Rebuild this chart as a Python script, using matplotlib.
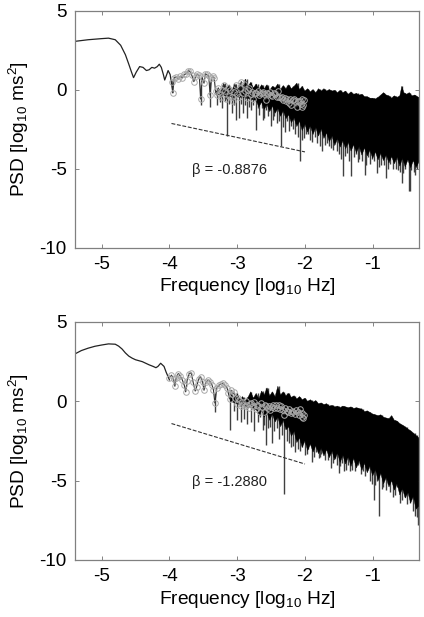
"""Two PSD panels on log-log axes with a fitted slope over the low band."""

import matplotlib
matplotlib.use("Agg")
import matplotlib.pyplot as plt

plt.rcParams["font.family"] = ["Liberation Sans", "DejaVu Sans"]
plt.rcParams["mathtext.default"] = "regular"
plt.rcParams["axes.unicode_minus"] = False

# Top panel
top_line_x = [-5.39, -5.2, -5.0, -4.9, -4.8, -4.72, -4.65, -4.6, -4.56, -4.53, -4.49, -4.44, -4.39, -4.34, -4.3, -4.26,
              -4.22, -4.18, -4.15, -4.12, -4.09, -4.07, -4.04, -4.02, -3.99, -3.97, -3.95]
top_line_y = [3.05, 3.15, 3.22, 3.25, 3.15, 2.8, 2.2, 1.6, 1.1, 0.75, 1.1, 1.45, 1.4, 1.2, 1.25, 1.4,
              1.35, 1.45, 1.6, 1.4, 0.95, 0.6, 0.95, 1.2, 0.95, 0.4, -0.2]
top_circ_x = [-3.96, -3.95, -3.93, -3.9, -3.87, -3.84, -3.81, -3.78, -3.75, -3.72, -3.7, -3.67, -3.64, -3.61, -3.59,
              -3.56, -3.54, -3.52, -3.49, -3.47, -3.45, -3.42, -3.4, -3.38, -3.36, -3.34, -3.32, -3.3, -3.28, -3.26,
              -3.24, -3.22, -3.2, -3.18, -3.16, -3.14, -3.12, -3.1, -3.08, -3.06, -3.04, -3.02, -3.0, -2.98, -2.96,
              -2.94, -2.92, -2.9, -2.88, -2.86, -2.84, -2.82, -2.8, -2.78, -2.76, -2.74, -2.72, -2.7, -2.68, -2.66,
              -2.64, -2.62, -2.6, -2.58, -2.56, -2.54, -2.52, -2.5, -2.48, -2.46, -2.44, -2.42, -2.4, -2.38, -2.36,
              -2.34, -2.32, -2.3, -2.28, -2.26, -2.24, -2.22, -2.2, -2.18, -2.16, -2.14, -2.12, -2.1, -2.08, -2.06,
              -2.05, -2.04, -2.03, -2.02]
top_circ_y = [0.5, -0.2, 0.75, 0.8, 0.65, 0.85, 0.75, 0.95, 1.0, 1.2, 1.15, 0.9, 0.5, 0.85, 0.95,
              0.9, -0.6, 0.8, 0.4, 1.0, 0.95, 0.85, -0.35, 0.7, 0.85, 0.75, -0.1, -0.35, 0.1, -0.3,
              -0.5, 0.0, 0.3, -0.1, -0.6, 0.1, -0.4, 0.0, -0.5, -0.7, -0.15, 0.3, -0.3, -0.45, 0.1,
              0.5, -0.2, 0.35, -0.1, -0.55, 0.0, 0.1, -0.3, -0.15, -0.6, -0.2, -0.25, -0.1, -0.35, -0.2,
              -0.25, -0.15, -0.3, -0.65, -0.2, -0.3, -0.15, -0.35, -0.4, -0.2, -0.3, -0.5, -0.1, -0.45, -0.55,
              -0.5, -0.65, -0.55, -0.7, -0.6, -0.85, -0.6, -0.95, -0.65, -0.6, -0.75, -1.1, -0.7, -0.75, -0.9,
              -0.6, -1.1, -0.95, -0.65]
top_up_x = [-3.32, -3.28, -3.24, -3.2, -3.16, -3.12, -3.08, -3.04, -3.0, -2.96, -2.92, -2.88, -2.84, -2.8, -2.76,
            -2.72, -2.68, -2.64, -2.6, -2.56, -2.52, -2.48, -2.44, -2.4, -2.36, -2.32, -2.28, -2.24, -2.2, -2.16,
            -2.12, -2.08, -2.04, -2.0, -1.96, -1.92, -1.88, -1.84, -1.8, -1.76, -1.72, -1.68, -1.64, -1.6, -1.56,
            -1.52, -1.48, -1.44, -1.4, -1.36, -1.32, -1.28, -1.24, -1.2, -1.16, -1.12, -1.08, -1.04, -1.0, -0.96,
            -0.92, -0.88, -0.84, -0.8, -0.76, -0.72, -0.68, -0.64, -0.6, -0.57, -0.54, -0.5, -0.46, -0.42, -0.38, -0.32]
top_up_y = [-0.2, 0.1, -0.1, 0.4, 0.0, 0.3, -0.1, 0.35, 0.0, 0.4, 0.1, 0.65, 0.2, 0.45, 0.1,
            0.35, 0.0, 0.3, 0.05, 0.3, -0.05, 0.2, 0.1, 0.35, 0.0, 0.25, 0.05, 0.3, 0.05, 0.2,
            0.4, 0.0, 0.2, -0.1, 0.05, -0.15, 0.0, -0.2, 0.05, -0.1, 0.05, -0.1, 0.0, -0.1, -0.05,
            -0.2, -0.05, -0.2, -0.1, -0.3, -0.15, -0.3, -0.25, -0.35, -0.3, -0.45, -0.45, -0.55, -0.55, -0.6,
            -0.5, -0.35, -0.2, -0.35, -0.4, -0.55, -0.4, -0.5, -0.4, 0.2, -0.2, -0.3, -0.2, -0.4, -0.35, -0.5]
top_lo_x = [-3.32, -3.1, -2.9, -2.72, -2.68, -2.64, -2.6, -2.56, -2.52, -2.48, -2.44, -2.4, -2.36, -2.32, -2.28, -2.24,
            -2.2, -2.16, -2.12, -2.08, -2.04, -2.0, -1.96, -1.92, -1.88, -1.84, -1.8, -1.76, -1.72, -1.68, -1.64,
            -1.6, -1.56, -1.52, -1.48, -1.44, -1.4, -1.36, -1.32, -1.28, -1.24, -1.2, -1.16, -1.12, -1.08, -1.04,
            -1.0, -0.96, -0.92, -0.88, -0.84, -0.8, -0.76, -0.72, -0.68, -0.64, -0.6, -0.56, -0.52, -0.48, -0.44,
            -0.4, -0.36, -0.32]
top_lo_y = [-0.3, -0.45, -0.5, -0.7, -1.1, -0.8, -1.25, -0.95, -1.4, -1.05, -1.5, -1.2, -1.7, -1.35, -1.85, -1.6,
            -2.1, -1.8, -2.35, -2.0, -2.6, -2.2, -2.7, -2.3, -2.85, -2.4, -2.95, -2.5, -3.1, -2.75, -3.3,
            -2.95, -3.55, -3.1, -3.65, -3.25, -3.75, -3.35, -3.9, -3.5, -4.0, -3.6, -4.15, -3.7, -4.2, -3.85,
            -4.35, -3.95, -4.45, -4.05, -4.5, -4.15, -4.65, -4.25, -4.7, -4.3, -4.85, -4.35, -4.9, -4.45, -4.95,
            -4.5, -4.95, -4.6]
top_spike_x = [-3.54, -3.4, -3.3, -3.26, -3.22, -3.18, -3.15, -3.12, -3.08, -3.05, -3.02, -2.98, -2.95, -2.92, -2.89, -2.86,
               -2.83, -2.8, -2.76, -2.73, -2.7, -2.68, -2.64, -2.6, -2.57, -2.54, -2.5,
               -2.45, -2.42, -2.35, -2.32, -2.26, -2.2, -2.14, -2.08, -2.04, -1.98, -1.92, -1.85, -1.78, -1.75, -1.68,
               -1.62, -1.56, -1.5, -1.44, -1.38, -1.32, -1.25, -1.2, -1.12, -1.07, -0.98, -0.94, -0.88, -0.8, -0.74,
               -0.7, -0.62, -0.57, -0.52, -0.47, -0.45, -0.39, -0.35,
               -2.62, -2.47, -2.38, -2.29, -2.23, -2.17, -2.11, -2.01, -1.95, -1.89, -1.82, -1.71, -1.65, -1.59, -1.53,
               -1.47, -1.41, -1.35, -1.28, -1.22, -1.16, -1.1, -1.04, -1.01, -0.91, -0.84, -0.77, -0.66, -0.6, -0.55,
               -0.43, -0.37]
top_spike_y = [-1.0, -1.1, -1.0, -0.8, -1.2, -0.7, -2.95, -0.9, -1.5, -1.0, -1.9, -1.8, -0.9, -1.5, -1.0, -1.8,
               -1.1, -1.3, -1.0, -2.55, -1.2, -1.6, -1.2, -1.8, -1.3, -1.7, -2.3,
               -1.7, -2.1, -3.55, -2.4, -2.0, -2.3, -2.8, -4.5, -3.2, -2.8, -3.2, -3.0, -3.6, -3.9, -3.4,
               -3.7, -3.3, -4.1, -5.5, -4.0, -5.5, -4.1, -4.4, -5.4, -4.3, -4.5, -5.3, -4.8, -5.6, -4.7,
               -5.0, -5.1, -5.9, -5.0, -6.4, -6.4, -5.2, -5.0,
               -1.9, -1.9, -2.0, -2.7, -2.6, -2.5, -3.0, -3.1, -2.8, -3.3, -3.4, -3.5, -3.6, -3.8, -3.9,
               -4.4, -4.2, -4.5, -4.3, -4.6, -4.5, -4.8, -4.7, -4.4, -4.9, -4.8, -5.0, -5.0, -5.2, -5.3,
               -5.1, -5.4]

# Bottom panel
bot_line_x = [-5.39, -5.3, -5.2, -5.1, -5.0, -4.9, -4.8, -4.75, -4.7, -4.65, -4.6, -4.55, -4.5, -4.4, -4.3, -4.24, -4.2,
              -4.17, -4.13, -4.08, -4.05, -4.02, -4.0]
bot_line_y = [3.0, 3.2, 3.35, 3.47, 3.55, 3.62, 3.6, 3.48, 3.3, 3.05, 2.85, 2.72, 2.62, 2.5, 2.3, 2.2, 2.12,
              2.2, 2.4, 2.2, 1.85, 1.55, 1.35]
bot_circ_x = [-4.0, -3.97, -3.94, -3.92, -3.9, -3.87, -3.84, -3.81, -3.78, -3.76, -3.74, -3.71, -3.68, -3.65, -3.62,
              -3.6, -3.57, -3.54, -3.51, -3.49, -3.46, -3.43, -3.4, -3.37, -3.35, -3.33, -3.3, -3.27, -3.24, -3.21,
              -3.18, -3.15, -3.13, -3.11, -3.09, -3.07, -3.05, -3.03, -3.01, -2.99, -2.97, -2.95, -2.93, -2.91, -2.89,
              -2.87, -2.85, -2.83, -2.81, -2.79, -2.77, -2.75, -2.73, -2.71, -2.69, -2.67, -2.65, -2.63, -2.61, -2.59,
              -2.57, -2.55, -2.53, -2.51, -2.49, -2.47, -2.45, -2.43, -2.41, -2.39, -2.37, -2.35, -2.33, -2.31, -2.29,
              -2.27, -2.25, -2.23, -2.21, -2.19, -2.17, -2.15, -2.13, -2.11, -2.09, -2.07, -2.05, -2.04, -2.03, -2.02]
bot_circ_y = [1.5, 1.65, 1.4, 0.95, 1.5, 1.75, 1.6, 1.35, 1.0, 0.6, 1.3, 1.75, 1.8, 1.2, 0.65,
              0.9, 1.4, 1.55, 1.2, 0.7, 1.2, 1.35, 1.25, 1.0, 0.7, -0.1, 0.85, 1.0, 1.1, 1.15,
              1.0, 0.85, 0.5, 0.15, 0.7, 0.45, 0.6, 0.2, -0.15, 0.2, 0.1, -0.3, -0.05, -0.2, -0.3,
              0.0, -0.2, -0.4, -0.15, -0.1, -0.3, -0.05, -0.5, -0.2, -0.3, -0.65, -0.1, -0.35, -0.7, -0.2,
              -0.3, -0.45, -0.3, -0.55, -0.35, -0.2, -0.4, -0.25, -0.45, -0.2, -0.5, -0.3, -0.55, -0.85, -0.45,
              -0.6, -0.7, -0.5, -0.75, -0.6, -0.65, -0.8, -0.55, -0.7, -0.85, -0.5, -1.0, -0.75, -1.05, -0.85]
bot_up_x = [-3.1, -3.05, -3.0, -2.96, -2.92, -2.88, -2.84, -2.8, -2.76, -2.72, -2.68, -2.64, -2.6, -2.56, -2.52,
            -2.48, -2.44, -2.4, -2.36, -2.32, -2.28, -2.24, -2.2, -2.16, -2.12, -2.08, -2.04, -2.0, -1.96, -1.92,
            -1.88, -1.84, -1.8, -1.76, -1.72, -1.68, -1.64, -1.6, -1.56, -1.52, -1.48, -1.44, -1.4, -1.36, -1.32,
            -1.28, -1.24, -1.2, -1.16, -1.12, -1.08, -1.04, -1.0, -0.96, -0.92, -0.88, -0.84, -0.8, -0.76, -0.72,
            -0.68, -0.64, -0.6, -0.56, -0.52, -0.48, -0.44, -0.4, -0.36, -0.32]
bot_up_y = [0.6, 0.2, 0.5, 0.1, 0.3, 0.0, 0.25, 0.6, 0.2, 0.5, 0.15, 0.65, 0.4, 0.85, 0.35,
            0.6, 0.3, 0.95, 0.4, 0.6, 0.35, 0.5, 0.25, 0.35, 0.15, 0.3, 0.1, 0.2, 0.0, 0.1,
            -0.05, 0.05, -0.15, -0.1, -0.2, -0.15, -0.3, -0.25, -0.35, -0.3, -0.4, -0.3, -0.35, -0.4, -0.35,
            -0.45, -0.4, -0.45, -0.5, -0.65, -0.6, -0.7, -0.8, -0.85, -0.9, -0.85, -1.0, -1.05, -1.1, -0.9,
            -1.2, -1.25, -1.4, -1.5, -1.6, -1.75, -1.85, -2.0, -2.15, -2.3]
bot_lo_x = [-3.1, -2.9, -2.72, -2.68, -2.64, -2.6, -2.56, -2.52, -2.48, -2.44, -2.4, -2.36, -2.32, -2.28, -2.24,
            -2.2, -2.16, -2.12, -2.08, -2.04, -2.0, -1.96, -1.92, -1.88, -1.84, -1.8, -1.76, -1.72, -1.68, -1.64,
            -1.6, -1.56, -1.52, -1.48, -1.44, -1.4, -1.36, -1.32, -1.28, -1.24, -1.2, -1.16, -1.12, -1.08, -1.04,
            -1.0, -0.96, -0.92, -0.88, -0.84, -0.8, -0.76, -0.72, -0.68, -0.64, -0.6, -0.56, -0.52, -0.48, -0.44,
            -0.4, -0.36, -0.32]
bot_lo_y = [0.0, -0.3, -0.5, -0.9, -0.6, -1.0, -0.7, -1.2, -0.8, -1.3, -1.0, -1.6, -1.2, -1.8, -1.6,
            -2.2, -1.9, -2.6, -2.3, -2.9, -2.5, -3.1, -2.7, -3.2, -2.8, -3.3, -2.95, -3.45, -3.05, -3.55,
            -3.15, -3.7, -3.25, -3.85, -3.4, -3.95, -3.5, -4.1, -3.6, -4.2, -3.75, -4.35, -3.9, -4.5, -4.1,
            -4.7, -4.3, -5.0, -4.55, -5.2, -4.8, -5.4, -5.0, -5.6, -5.2, -5.9, -5.5, -6.1, -5.75, -6.4,
            -6.0, -6.8, -6.6]
bot_spike_x = [-3.33, -3.1, -3.04, -3.0, -2.95, -2.9, -2.85, -2.8, -2.75, -2.7, -2.66, -2.62, -2.57, -2.52, -2.48, -2.42, -2.38, -2.31,
               -2.26, -2.2, -2.15, -2.1, -2.04, -2.0, -1.95, -1.9, -1.84, -1.8, -1.76, -1.7, -1.62, -1.56, -1.5,
               -1.45, -1.42, -1.36, -1.3, -1.22, -1.15, -1.08, -0.98, -0.94, -0.9, -0.85, -0.78, -0.7, -0.64, -0.6,
               -0.53, -0.45, -0.38, -0.33,
               -2.6, -2.54, -2.45, -2.34, -2.23, -2.17, -2.07, -1.97, -1.87, -1.78, -1.66, -1.59, -1.53, -1.48, -1.39,
               -1.33, -1.26, -1.18, -1.11, -1.04, -1.01, -0.96, -0.87, -0.81, -0.74, -0.67, -0.57, -0.5, -0.41, -0.35]
bot_spike_y = [-0.7, -1.8, -0.6, -1.2, -1.3, -1.1, -1.4, -1.3, -1.9, -1.3, -1.0, -1.8, -2.75, -1.6, -2.6, -1.7, -2.4, -5.85,
               -2.5, -2.9, -3.2, -3.0, -2.9, -3.4, -3.0, -3.8, -3.2, -3.6, -3.3, -3.7, -4.2, -3.6, -4.5,
               -3.9, -4.4, -4.0, -4.3, -4.0, -4.4, -4.3, -6.2, -5.0, -7.2, -5.4, -5.2, -6.0, -5.4, -6.4,
               -6.0, -6.4, -7.2, -7.8,
               -1.5, -1.7, -1.9, -2.1, -2.6, -2.8, -3.1, -3.3, -3.5, -3.5, -3.7, -3.9, -4.0, -4.1, -4.3,
               -4.4, -4.4, -4.6, -4.7, -5.0, -5.2, -5.3, -5.5, -5.6, -5.7, -5.9, -6.2, -6.5, -6.9, -7.3]

# Slope guides and their labels
top_fit_x = [-3.97, -2.0]
top_fit_y = [-2.15, -3.95]
bot_fit_x = [-3.97, -2.0]
bot_fit_y = [-1.4, -3.95]
top_beta = "β = -0.8876"
bot_beta = "β = -1.2880"

xticks = [-5, -4, -3, -2, -1]
yticks = [-10, -5, 0, 5]


def spike_tops(xs, up, fallback):
    # Each spike hangs from the nearest read-off point of the upper edge.
    tops = []
    for x in xs:
        if x < up[0][0]:
            tops.append(fallback)
            continue
        i = min(range(len(up[0])), key=lambda k: abs(up[0][k] - x))
        tops.append(up[1][i])
    return tops


def draw_panel(ax, line, up, lo, spikes, circ, fit, beta):
    ax.plot(line[0], line[1], color="#222222", lw=0.9, zorder=2)
    ax.fill(list(up[0]) + list(lo[0])[::-1], list(up[1]) + list(lo[1])[::-1], color="black", lw=0.3, zorder=2)
    ax.vlines(spikes[0], spikes[1], spike_tops(spikes[0], up, 0.5), color="#404040", lw=1.0, zorder=1)
    ax.plot(circ[0], circ[1], color="#303030", lw=0.8, zorder=2)
    ax.plot(circ[0], circ[1], "o", ms=4.0, mfc="none", mec="#a8a8a8", mew=0.7, zorder=3)
    ax.plot(fit[0], fit[1], "--", color="#333333", lw=0.8, dashes=(3.5, 1.5), zorder=4)
    ax.text(-3.67, -5.07, beta, fontsize=10.5, va="center", ha="left", color="#222222")
    ax.set_xlim(-5.394, -0.317)
    ax.set_ylim(-10, 5)
    ax.set_xticks(xticks)
    ax.set_yticks(yticks)
    ax.tick_params(direction="in", length=3, width=0.6, color="#707070", top=True, right=True,
                   labelsize=13.5, pad=6)
    for s in ax.spines.values():
        s.set_color("#808080")
        s.set_linewidth(0.9)
    ax.set_xlabel("Frequency [log$_{10}$ Hz]", fontsize=13.8, labelpad=2.5)
    ax.set_ylabel("PSD [log$_{10}$ ms$^{2}$]", fontsize=13.8, labelpad=6)


def main():
    fig = plt.figure(figsize=(4.24, 6.17), dpi=100)
    w, h = 424.0, 617.0
    ax1 = fig.add_axes([75 / w, 1 - 247.5 / h, 344 / w, 237 / h])
    ax2 = fig.add_axes([75 / w, 1 - 560 / h, 344 / w, 238 / h])
    draw_panel(ax1, (top_line_x, top_line_y), (top_up_x, top_up_y), (top_lo_x, top_lo_y),
               (top_spike_x, top_spike_y), (top_circ_x, top_circ_y), (top_fit_x, top_fit_y), top_beta)
    draw_panel(ax2, (bot_line_x, bot_line_y), (bot_up_x, bot_up_y), (bot_lo_x, bot_lo_y),
               (bot_spike_x, bot_spike_y), (bot_circ_x, bot_circ_y), (bot_fit_x, bot_fit_y), bot_beta)
    fig.savefig("out.png", dpi=100)


if __name__ == "__main__":
    main()
